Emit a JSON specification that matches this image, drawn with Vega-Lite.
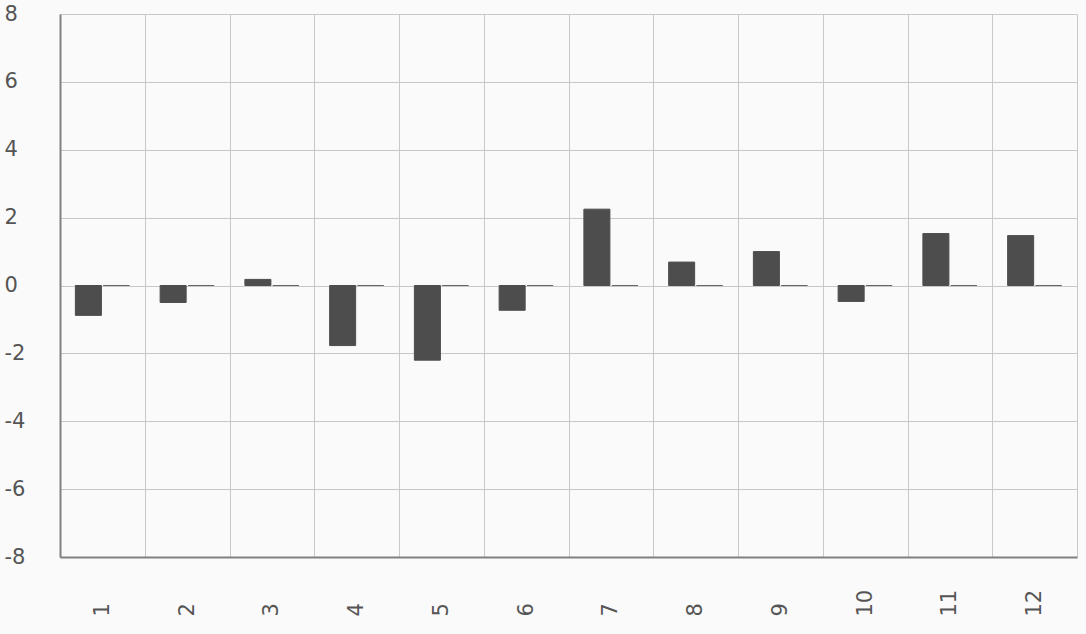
{
  "$schema": "https://vega.github.io/schema/vega-lite/v6.json",
  "autosize": "none",
  "padding": {"left": 60, "top": 14, "right": 9, "bottom": 77},
  "width": 1017,
  "height": 543,
  "background": "#fafafa",
  "config": {
    "view": {"stroke": null},
    "font": "DejaVu Sans"
  },
  "data": {
    "values": [
      {"month": "1", "series": "A", "value": -0.88},
      {"month": "2", "series": "A", "value": -0.5},
      {"month": "3", "series": "A", "value": 0.18},
      {"month": "4", "series": "A", "value": -1.77},
      {"month": "5", "series": "A", "value": -2.2},
      {"month": "6", "series": "A", "value": -0.73},
      {"month": "7", "series": "A", "value": 2.25},
      {"month": "8", "series": "A", "value": 0.69},
      {"month": "9", "series": "A", "value": 1.0},
      {"month": "10", "series": "A", "value": -0.47},
      {"month": "11", "series": "A", "value": 1.53},
      {"month": "12", "series": "A", "value": 1.47},
      {"month": "1", "series": "B", "value": 0},
      {"month": "2", "series": "B", "value": 0},
      {"month": "3", "series": "B", "value": 0},
      {"month": "4", "series": "B", "value": 0},
      {"month": "5", "series": "B", "value": 0},
      {"month": "6", "series": "B", "value": 0},
      {"month": "7", "series": "B", "value": 0},
      {"month": "8", "series": "B", "value": 0},
      {"month": "9", "series": "B", "value": 0},
      {"month": "10", "series": "B", "value": 0},
      {"month": "11", "series": "B", "value": 0},
      {"month": "12", "series": "B", "value": 0}
    ]
  },
  "mark": {"type": "bar", "strokeWidth": 1},
  "encoding": {
    "x": {
      "field": "month",
      "type": "ordinal",
      "sort": null,
      "scale": {"paddingInner": 0, "paddingOuter": 0},
      "axis": {
        "title": null,
        "labelAngle": -90,
        "labelAlign": "left",
        "labelBaseline": "middle",
        "labelPadding": 59,
        "labelFontSize": 21,
        "labelColor": "#555555",
        "ticks": false,
        "grid": true,
        "tickBand": "extent",
        "gridColor": "#c8c8c8",
        "gridWidth": 1,
        "domainColor": "#808080",
        "domainWidth": 2
      }
    },
    "xOffset": {
      "field": "series",
      "type": "nominal",
      "scale": {"paddingInner": 0.07, "paddingOuter": 0.55}
    },
    "y": {
      "field": "value",
      "type": "quantitative",
      "scale": {"domain": [-8, 8], "nice": false, "zero": false},
      "axis": {
        "title": null,
        "values": [-8, -6, -4, -2, 0, 2, 4, 6, 8],
        "labelExpr": "replace(datum.label, '\u2212', '-')",
        "labelAlign": "left",
        "labelPadding": 56,
        "labelFontSize": 21,
        "labelColor": "#555555",
        "ticks": false,
        "grid": true,
        "gridColor": "#c8c8c8",
        "gridWidth": 1,
        "domainColor": "#808080",
        "domainWidth": 2
      }
    },
    "color": {
      "field": "series",
      "type": "nominal",
      "scale": {"range": ["#4d4d4d", "#666666"]},
      "legend": null
    },
    "stroke": {
      "field": "series",
      "type": "nominal",
      "scale": {"range": ["#4d4d4d", "#666666"]},
      "legend": null
    }
  }
}
